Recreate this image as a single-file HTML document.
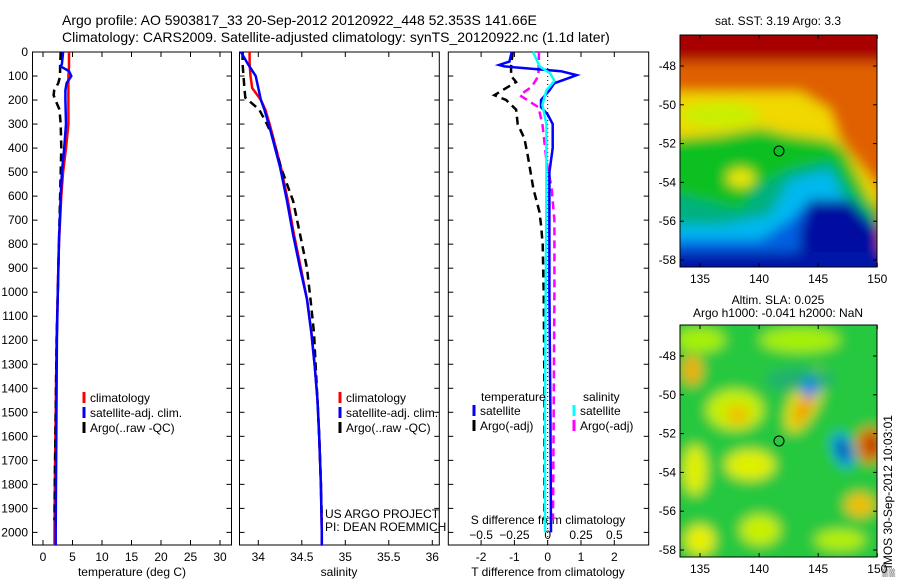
<!DOCTYPE html>
<html><head><meta charset="utf-8"><style>
body{margin:0;background:#fff;}
svg text{font-family:"Liberation Sans",sans-serif;fill:#000;}
</style></head><body>
<svg id="fig" width="900" height="580" xmlns="http://www.w3.org/2000/svg">
<defs>
<filter id="blur1"><feGaussianBlur stdDeviation="6"/></filter>
<filter id="blur2"><feGaussianBlur stdDeviation="6"/></filter>
<clipPath id="c1"><rect x="680" y="35" width="197" height="232"/></clipPath>
<clipPath id="c2"><rect x="680" y="325" width="197" height="232"/></clipPath>
</defs>
<text x="62" y="25" font-size="14">Argo profile: AO 5903817_33 20-Sep-2012 20120922_448 52.353S 141.66E</text>
<text x="62" y="42" font-size="14">Climatology: CARS2009. Satellite-adjusted climatology: synTS_20120922.nc (1.1d later)</text>

<g clip-path="url(#c1)">
<g filter="url(#blur1)">
<rect x="660" y="20" width="240" height="260" fill="#a80000"/>
<rect x="660" y="62" width="240" height="230" fill="#e06000"/>
<path d="M660,92 L800,92 L830,110 L840,140 L880,190 L880,300 L660,300Z" fill="#f0d800"/>
<ellipse cx="720" cy="115" rx="40" ry="12" fill="#c8f000"/>
<path d="M660,140 L720,135 L760,128 L790,135 L830,140 L845,150 L870,200 L880,210 L880,300 L660,300Z" fill="#10c020"/>
<path d="M660,190 L700,200 L740,210 L760,185 L790,170 L830,160 L850,190 L880,230 L880,300 L660,300Z" fill="#00b080"/>
<ellipse cx="741" cy="178" rx="14" ry="9" fill="#f0e800"/>
<path d="M660,225 L720,225 L770,215 L790,180 L830,170 L845,200 L880,240 L880,300 L660,300Z" fill="#00b8f0"/>
<path d="M660,240 L760,240 L790,220 L810,200 L845,205 L880,240 L880,300 L660,300Z" fill="#0060e0"/>
<path d="M810,200 L850,200 L880,230 L880,300 L800,300 L800,230Z" fill="#0010a0"/>
<rect x="660" y="252" width="240" height="40" fill="#0018a8"/>
</g></g>
<rect x="680" y="35" width="197" height="232" fill="none" stroke="#000"/>
<circle cx="779" cy="151" r="5" fill="none" stroke="#000"/>
<text x="778" y="25" font-size="12" text-anchor="middle">sat. SST: 3.19 Argo: 3.3</text>

<g clip-path="url(#c2)">
<g filter="url(#blur2)">
<rect x="660" y="310" width="240" height="270" fill="#28c840"/>
<ellipse cx="700" cy="340" rx="25" ry="12" fill="#a8f000"/>
<ellipse cx="800" cy="340" rx="40" ry="12" fill="#a8f000"/>
<ellipse cx="692" cy="370" rx="10" ry="15" fill="#f0b000"/>
<ellipse cx="735" cy="410" rx="28" ry="20" fill="#c8f000"/>
<ellipse cx="738" cy="415" rx="12" ry="10" fill="#f0c000"/>
<ellipse cx="750" cy="465" rx="25" ry="15" fill="#e0f000"/>
<ellipse cx="695" cy="470" rx="12" ry="25" fill="#e0f000"/>
<ellipse cx="805" cy="400" rx="14" ry="35" fill="#e8e000" transform="rotate(25 805 400)"/>
<ellipse cx="805" cy="405" rx="6" ry="22" fill="#f09000" transform="rotate(25 805 405)"/>
<ellipse cx="800" cy="380" rx="35" ry="12" fill="#20b070"/>
<ellipse cx="810" cy="388" rx="8" ry="10" fill="#0080f0"/>
<ellipse cx="843" cy="450" rx="10" ry="18" fill="#00a0f0" transform="rotate(-20 843 450)"/>
<ellipse cx="843" cy="450" rx="5" ry="11" fill="#0010a0" transform="rotate(-20 843 450)"/>
<ellipse cx="870" cy="445" rx="14" ry="18" fill="#e07000"/>
<ellipse cx="873" cy="445" rx="7" ry="9" fill="#b02000"/>
<ellipse cx="860" cy="505" rx="15" ry="12" fill="#f0c000"/>
<ellipse cx="760" cy="530" rx="20" ry="15" fill="#c8f000"/>
<ellipse cx="700" cy="540" rx="15" ry="15" fill="#e8f000"/>
<ellipse cx="840" cy="540" rx="25" ry="10" fill="#b8f000"/>
</g></g>
<rect x="680" y="325" width="197" height="232" fill="none" stroke="#000"/>
<circle cx="779" cy="441" r="5" fill="none" stroke="#000"/>
<text x="778" y="304" font-size="12" text-anchor="middle">Altim. SLA: 0.025</text>
<text x="778" y="317" font-size="12" text-anchor="middle">Argo h1000: -0.041 h2000: NaN</text>
<text font-size="12" transform="translate(892,577) rotate(-90)">▒IMOS 30-Sep-2012 10:03:01</text>
<g id="g"></g>
</svg>
<script>
const tempDepth=[0,50,60,80,100,130,160,200,300,400,500,600,700,800,1000,1200,1400,1600,1800,2000,2055];
const climT=[4.4,4.4,4.4,4.35,4.3,4.3,4.3,4.3,4.3,3.9,3.4,3.1,2.9,2.7,2.5,2.3,2.2,2.1,2.0,1.95,1.95];
const satT=[3.4,3.2,3.0,4.4,4.8,4.0,3.8,3.8,3.9,3.6,3.2,3.0,2.85,2.7,2.5,2.35,2.3,2.25,2.2,2.15,2.15];
const argoTDepth=[0,60,100,130,160,180,200,240,300,400,500,600,700,800,1000,1200,1400,1600,1800,1950];
const argoT=[3.0,2.9,2.9,2.6,1.9,1.8,2.1,2.8,3.0,3.1,3.0,2.9,2.8,2.7,2.5,2.3,2.2,2.1,2.0,1.95];
const salDepth=[0,50,100,150,200,240,300,340,480,620,760,900,1030,1170,1310,1450,1600,1800,2000,2055];
const climS=[33.90,33.90,33.91,33.93,34.03,34.08,34.13,34.16,34.26,34.34,34.41,34.49,34.56,34.61,34.65,34.68,34.70,34.72,34.73,34.73];
const satS=[33.80,33.88,33.97,34.00,34.03,34.07,34.12,34.15,34.25,34.33,34.40,34.48,34.56,34.61,34.65,34.68,34.70,34.72,34.73,34.73];
const argoSDepth=[0,50,100,150,190,240,300,340,480,620,760,900,1030,1170,1310,1450,1600,1800,1950];
const argoS=[33.82,33.82,33.83,33.84,33.85,34.01,34.10,34.15,34.26,34.40,34.48,34.56,34.60,34.64,34.66,34.68,34.70,34.72,34.73];
const tdDepth=[0,40,54,60,80,96,110,130,160,200,230,260,300,400,500,600,800,1000,1500,2000];
const satTd=[-1.08,-1.15,-1.46,-1.3,0.4,0.87,0.6,0.2,0.05,-0.2,-0.2,0.0,0.15,0.15,0.05,0.05,0.05,0.05,0.08,0.1];
const argoTdDepth=[0,60,100,125,180,200,240,300,360,430,570,665,720,800,1000,1400,1950];
const argoTd=[-1.05,-1.1,-1.1,-0.95,-1.6,-1.25,-0.95,-0.9,-0.7,-0.6,-0.43,-0.25,-0.2,-0.15,-0.12,-0.1,-0.1];
const argoSdDepth=[0,100,145,180,230,300,450,570,700,1000,1500,1950];
const argoSd=[-0.065,-0.07,-0.12,-0.21,-0.07,-0.04,-0.01,0.03,0.05,0.05,0.045,0.04];
const satSdDepth=[0,60,90,120,160,220,300,600,1000,1500,2000];
const satSd=[-0.11,-0.06,0.02,0.05,-0.01,-0.04,-0.01,-0.01,-0.015,-0.02,-0.02];
const depthTicks=[0,100,200,300,400,500,600,700,800,900,1000,1100,1200,1300,1400,1500,1600,1700,1800,1900,2000];
const tTicks=[0,5,10,15,20,25,30];
const sTicks=[34,34.5,35,35.5,36];
const tdTicks=[-2,-1,0,1,2];
const sdTicks=[-0.5,-0.25,0,0.25,0.5];
const lonTicks=[135,140,145,150];
const latTicks=[-48,-50,-52,-54,-56,-58];
const Y=d=>52+d*0.2402;
const xT=t=>43+t*5.9;
const xS=s=>258.3+(s-34)*87;
const xTd=v=>547.7+v*33.3;
const xSd=v=>547.7+v*133.3;
const lonX=l=>700+(l-135)*11.82;
const lat1=l=>66+(-48-l)*19.4;
const lat2=l=>356+(-48-l)*19.4;
const NS='http://www.w3.org/2000/svg';
const G=document.getElementById('g');
function el(tag,attrs,parent){const e=document.createElementNS(NS,tag);for(const k in attrs)e.setAttribute(k,attrs[k]);(parent||G).appendChild(e);return e;}
function txt(x,y,s,size,anchor){const e=el('text',{x:x,y:y,'font-size':size||12,'text-anchor':anchor||'start'});e.textContent=s;return e;}
const panels=[[32.5,231.5],[239.5,439.3],[448.3,648.7]];
const pTop=52,pBot=545;
panels.forEach((p,i)=>{
  const r=el('rect',{x:p[0],y:pTop,width:p[1]-p[0],height:pBot-pTop,fill:'none',stroke:'#000'});
  
  
  depthTicks.forEach(d=>{
    el('line',{x1:p[0],x2:p[0]+5,y1:Y(d),y2:Y(d),stroke:'#000'});
    el('line',{x1:p[1],x2:p[1]-5,y1:Y(d),y2:Y(d),stroke:'#000'});
  });
});
depthTicks.forEach(d=>{const t=txt(28,Y(d)+4,String(d),12,'end');
  
  });
function xticks(ticks,fx,labelY){ticks.forEach(v=>{const x=fx(v);
  el('line',{x1:x,x2:x,y1:pBot,y2:pBot-5,stroke:'#000'});el('line',{x1:x,x2:x,y1:pTop,y2:pTop+5,stroke:'#000'});
  const t=txt(x,labelY,String(v),12,'middle');
  
  });}
xticks(tTicks,xT,561);
xticks(sTicks,xS,561);
xticks(tdTicks,xTd,561);
sdTicks.forEach(v=>{const t=txt(xSd(v),539,String(v).replace('-','−'),12,'middle');
  
  });
let a=txt(132,576,'temperature (deg C)',12,'middle');
a=txt(339,576,'salinity',12,'middle');
a=txt(548,576,'T difference from climatology',12,'middle');
a=txt(548,524,'S difference from climatology',12,'middle');
a=txt(325,518,'US ARGO PROJECT',12);
a=txt(325,531,'PI: DEAN ROEMMICH',12);
const z=el('line',{x1:xTd(0),x2:xTd(0),y1:pTop,y2:pBot,stroke:'#000','stroke-dasharray':'1,3'});


function line(depths,vals,fx,color,dashed,name){
  const pts=depths.map((d,i)=>fx(vals[i]).toFixed(1)+','+Y(d).toFixed(1)).join(' ');
  const e=el('polyline',{points:pts,fill:'none',stroke:color,'stroke-width':2.5});
  if(dashed)e.setAttribute('stroke-dasharray','8,5');
  
  
}
line(tempDepth,climT,xT,'#f00',false,'temp-climatology-line');
line(argoTDepth,argoT,xT,'#000',true,'temp-argo-line');
line(tempDepth,satT,xT,'#00f',false,'temp-satellite-line');
line(salDepth,climS,xS,'#f00',false,'sal-climatology-line');
line(argoSDepth,argoS,xS,'#000',true,'sal-argo-line');
line(salDepth,satS,xS,'#00f',false,'sal-satellite-line');
line(argoTdDepth,argoTd,xTd,'#000',true,'tdiff-argo-line');
line(argoSdDepth,argoSd,xSd,'#f0f',true,'sdiff-argo-line');
line(tdDepth,satTd,xTd,'#00f',false,'tdiff-satellite-line');
line(satSdDepth,satSd,xSd,'#0ff',false,'sdiff-satellite-line');
function legend(x,y,items,name){items.forEach((it,i)=>{
  const b=el('line',{x1:x,x2:x,y1:y+i*15-11,y2:y+i*15,stroke:it[1],'stroke-width':3});
  
  
  const t=txt(x+6,y+i*15-1,it[0],12);
  
  });}
const L=[['climatology','#f00'],['satellite-adj. clim.','#00f'],['Argo(..raw -QC)','#000']];
legend(84,403,L,'legend-temp');
legend(340,403,L,'legend-sal');
a=txt(481,401,'temperature',12);
a=txt(583,401,'salinity',12);
legend(474,416,[['satellite','#00f'],['Argo(-adj)','#000']],'legend-diff-temp');
legend(574,416,[['satellite','#0ff'],['Argo(-adj)','#f0f']],'legend-diff-sal');
[[lat1,35,267,283],[lat2,325,557,573]].forEach(m=>{
  lonTicks.forEach(l=>{const x=lonX(l);
    el('line',{x1:x,x2:x,y1:m[2],y2:m[2]-4,stroke:'#000'});el('line',{x1:x,x2:x,y1:m[1],y2:m[1]+4,stroke:'#000'});
    const t=txt(x,m[3],String(l),12,'middle');
    
    });
  latTicks.forEach(l=>{const y=m[0](l);
    el('line',{x1:680,x2:684,y1:y,y2:y,stroke:'#000'});el('line',{x1:877,x2:873,y1:y,y2:y,stroke:'#000'});
    const t=txt(676,y+4,String(l),12,'end');
    
    });
});
</script>
</body></html>
